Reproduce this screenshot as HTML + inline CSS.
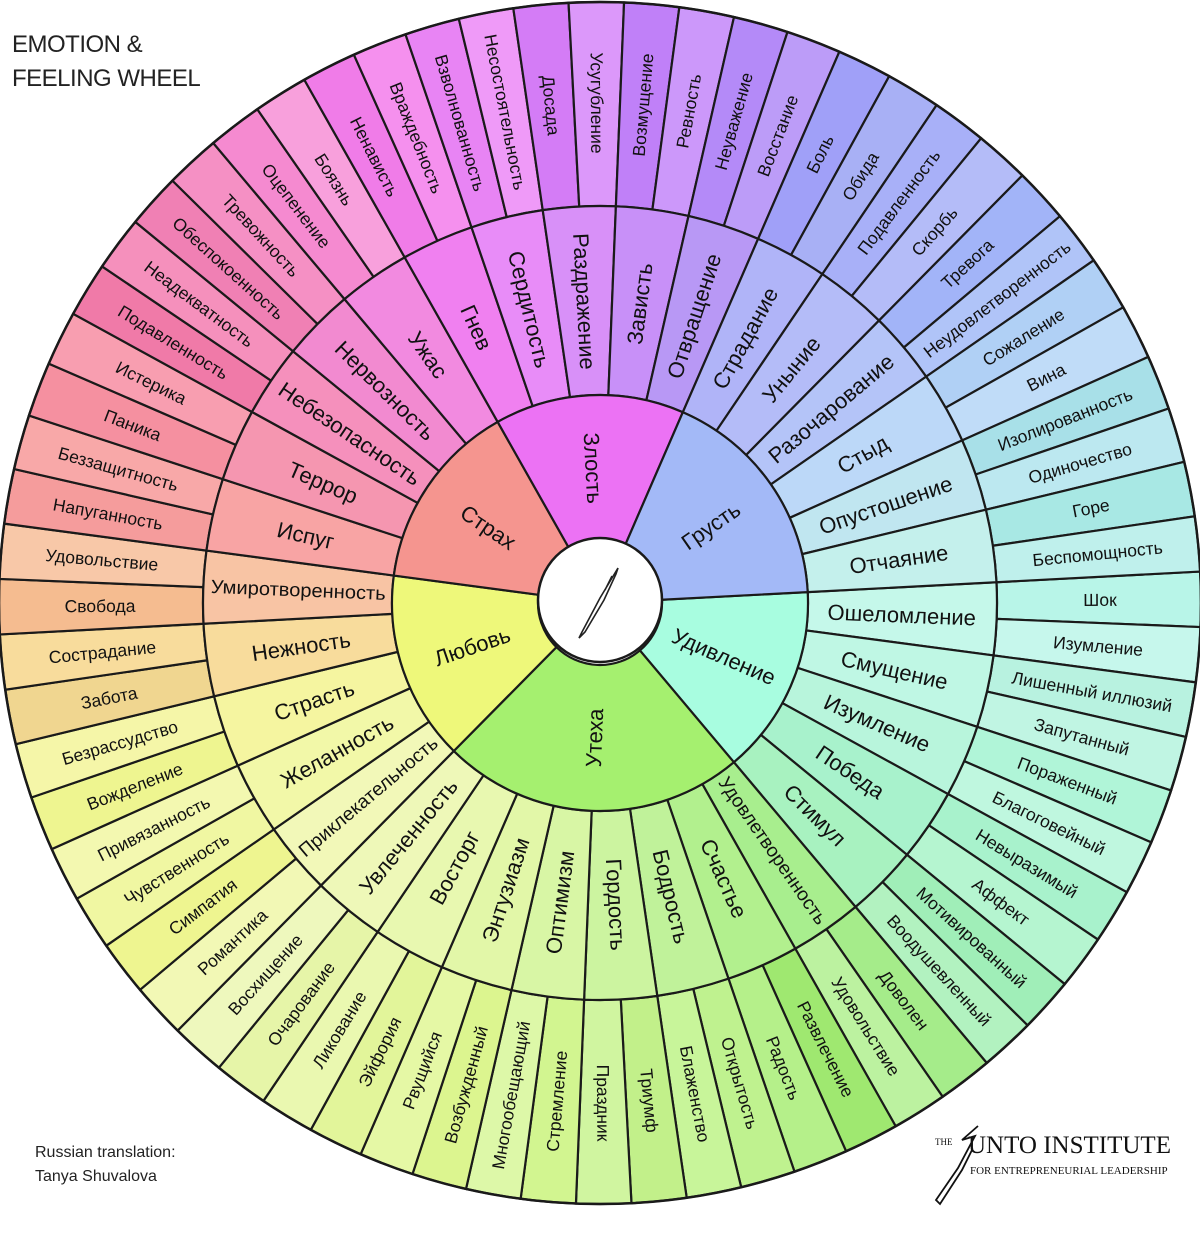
<!DOCTYPE html>
<html><head><meta charset="utf-8">
<style>
html,body{margin:0;padding:0;background:#fff;}
body{width:1200px;height:1228px;overflow:hidden;position:relative;font-family:"Liberation Sans",sans-serif;}
#t{position:absolute;left:12px;top:28px;font-size:24px;line-height:34px;color:#222;letter-spacing:-0.5px;}
#cr{position:absolute;left:35px;top:1141px;font-size:16px;line-height:24px;color:#222;}
svg text{font-family:"Liberation Sans Narrow","Liberation Sans",sans-serif;fill:#111;}
</style></head><body>
<svg id="w" width="1200" height="1228" viewBox="0 0 1200 1228" xmlns="http://www.w3.org/2000/svg"></svg>
<div id="t">EMOTION &amp;<br>FEELING WHEEL</div>
<div id="cr">Russian translation:<br>Tanya Shuvalova</div>
<script>
var CX=600,CY=603,R0=62,R1=208,R2=397,R3=601,TH0=-3;
var core=[["Удивление","#a8fde0",5],["Утеха","#a5f06f",8],["Любовь","#eef87a",5],["Страх","#f5958f",5],["Злость","#ec72f4",5],["Грусть","#a3b9f7",6]];
var mid=[["Ошеломление","#c5f8ea"],["Смущение","#bff7e4"],["Изумление","#b8f5dc"],["Победа","#a8f2cc"],["Стимул","#a8f2c0"],
["Удовлетворенность","#a8ee8e"],["Счастье","#b2f08e"],["Бодрость","#c0f29a"],["Гордость","#ccf4a0"],["Оптимизм","#d8f6a5"],["Энтузиазм","#e2f7a8"],["Восторг","#e8f8b0"],["Увлеченность","#eef8b8"],
["Приклекательность","#f2f8b8"],["Желанность","#f2f8a8"],["Страсть","#f5f5a0"],["Нежность","#f8dc9c"],["Умиротворенность","#f8c4a4"],
["Испуг","#f8a4a4"],["Террор","#f596b0"],["Небезопасность","#f590bc"],["Нервозность","#f28ad0"],["Ужас","#f28ae0"],
["Гнев","#f080f0"],["Сердитость","#e88cf8"],["Раздражение","#d890f8"],["Зависть","#c890f8"],["Отвращение","#b898f5"],
["Страдание","#b0b4f8"],["Уныние","#b4bcf8"],["Разочарование","#b4c4f8"],["Стыд","#bcd8f8"],["Опустошение","#c0e6f0"],["Отчаяние","#c4f0ec"]];
var outer=[["Шок","#b8f5e8"],["Изумление","#c6f7ec"],["Лишенный иллюзий","#b8f2e0"],["Запутанный","#c0f5e3"],["Пораженный","#b0f5d8"],["Благоговейный","#bff7df"],["Невыразимый","#a8f2cc"],["Аффект","#b5f5d0"],["Мотивированный","#a0eeb8"],["Воодушевленный","#b2f2c0"],
["Доволен","#a5ec8a"],["Удовольствие","#bcf2a0"],["Развлечение","#9fe870"],["Радость","#b5f08a"],["Открытость","#bff28f"],["Блаженство","#c8f59a"],["Триумф","#c2f08a"],["Праздник","#d0f5a0"],["Стремление","#d2f590"],["Многообещающий","#ddf8a8"],["Возбужденный","#dcf58f"],["Рвущийся","#e5f8a5"],["Эйфория","#e2f59a"],["Ликование","#eaf8b0"],["Очарование","#e6f5a8"],["Восхищение","#eef8bd"],
["Романтика","#f2f8b5"],["Симпатия","#eef590"],["Чувственность","#f0f7a2"],["Привязанность","#f3f8b0"],["Вожделение","#eef590"],["Безрассудство","#f5f6a8"],["Забота","#f0d690"],["Сострадание","#f8dc9c"],["Свобода","#f5bc90"],["Удовольствие","#f8c8a8"],
["Напуганность","#f59c9c"],["Беззащитность","#f8a8a8"],["Паника","#f590a0"],["Истерика","#f89eb0"],["Подавленность","#f07aa8"],["Неадекватность","#f590bc"],["Обеспокоенность","#f080b4"],["Тревожность","#f590c4"],["Оцепенение","#f58ad0"],["Боязнь","#f8a0dc"],
["Ненависть","#f07ce8"],["Враждебность","#f590ee"],["Взволнованность","#e884f4"],["Несостоятельность","#ef9af8"],["Досада","#d47cf6"],["Усугубление","#dc98fa"],["Возмущение","#c080f8"],["Ревность","#cc98fa"],["Неуважение","#b48af8"],["Восстание","#bc9cf8"],
["Боль","#a0a0f8"],["Обида","#a8b0f5"],["Подавленность","#a8b0f8"],["Скорбь","#b4bcf8"],["Тревога","#a2b4f8"],["Неудовлетворенность","#b0c4f8"],["Сожаление","#b0d0f5"],["Вина","#c0dcf8"],["Изолированность","#a8e0e8"],["Одиночество","#bce8f0"],["Горе","#a8e8e4"],["Беспомощность","#bff0ec"]];
var S=360/68, svg=document.getElementById('w'), h='';
function pt(r,a){var t=a*Math.PI/180;return [CX+r*Math.cos(t),CY+r*Math.sin(t)];}
function sector(r1,r2,a1,a2,fill){var p1=pt(r2,a1),p2=pt(r2,a2),p3=pt(r1,a2),p4=pt(r1,a1);var lg=(a2-a1)>180?1:0;
return '<path d="M'+p1[0].toFixed(2)+' '+p1[1].toFixed(2)+' A'+r2+' '+r2+' 0 '+lg+' 1 '+p2[0].toFixed(2)+' '+p2[1].toFixed(2)+' L'+p3[0].toFixed(2)+' '+p3[1].toFixed(2)+' A'+r1+' '+r1+' 0 '+lg+' 0 '+p4[0].toFixed(2)+' '+p4[1].toFixed(2)+' Z" fill="'+fill+'" stroke="#1a1a1a" stroke-width="2.2"/>';}
function label(txt,r,a,fs,fam,tl){var p=pt(r,a);var n=((a%360)+360)%360;var rot=(n>90.5&&n<270)?n+180:n;
return '<text x="'+p[0].toFixed(2)+'" y="'+p[1].toFixed(2)+'" font-size="'+fs+'" text-anchor="middle" dominant-baseline="central"'+(tl?' textLength="'+tl+'" lengthAdjust="spacingAndGlyphs"':'')+' transform="rotate('+rot.toFixed(2)+' '+p[0].toFixed(2)+' '+p[1].toFixed(2)+')"'+(fam?' style="font-family:'+fam+'"':'')+'>'+txt+'</text>';}
var i,a;
for(i=0;i<68;i++){a=TH0+i*S;h+=sector(R2,R3,a,a+S,outer[i][1]);}
for(i=0;i<34;i++){a=TH0+i*2*S;h+=sector(R1,R2,a,a+2*S,mid[i][1]);}
var k=0;for(i=0;i<core.length;i++){a=TH0+k*2*S;var e=a+core[i][2]*2*S;h+=sector(R0,R1,a,e,core[i][1]);core[i].push(a,e);k+=core[i][2];}
for(i=0;i<68;i++){h+=label(outer[i][0],500,TH0+(i+0.5)*S,17.5);}
for(i=0;i<34;i++){var L=mid[i][0].length;h+=label(mid[i][0],302,TH0+(2*i+1)*S,L>14?19:22,'\'Liberation Sans\',sans-serif',L>14?175:0);}
for(i=0;i<core.length;i++){h+=label(core[i][0],135,(core[i][3]+core[i][4])/2,22,'\'Liberation Sans\',sans-serif');}
h+='<circle cx="600" cy="600" r="62" fill="#fff" stroke="#1a1a1a" stroke-width="2.5"/>';
h+='<path d="M618 568 L600 598 L582 632 L579 638 L585 632 L604 600 L616 574 Z M612 576 L605 590" fill="none" stroke="#222" stroke-width="1.6"/>';
h+='<circle cx="'+CX+'" cy="'+CY+'" r="'+R3+'" fill="none" stroke="#1a1a1a" stroke-width="2.5"/>';
h+='<text x="935" y="1145" font-size="9" style="font-family:\'Liberation Serif\',serif">THE</text>';
h+='<text x="968" y="1153" font-size="25" style="font-family:\'Liberation Serif\',serif">UNTO INSTITUTE</text>';
h+='<text x="970" y="1174" font-size="11" style="font-family:\'Liberation Serif\',serif">FOR ENTREPRENEURIAL LEADERSHIP</text>';
h+='<path d="M978 1126 L962 1140 L975 1136 L958 1168 L936 1200 L940 1204 L962 1170 L972 1150" fill="none" stroke="#111" stroke-width="1.8"/>';
svg.innerHTML=h;
</script>
</body></html>
